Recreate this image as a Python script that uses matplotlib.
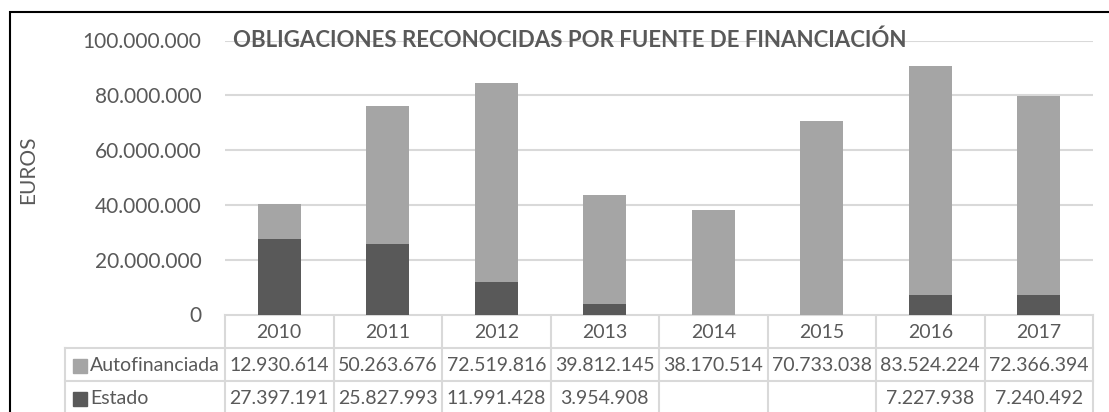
import numpy as np
import matplotlib
matplotlib.use("Agg")
import matplotlib.pyplot as plt
import matplotlib.patches as patches

years = ["2010", "2011", "2012", "2013", "2014", "2015", "2016", "2017"]
autofinanciada = [12930614, 50263676, 72519816, 39812145, 38170514, 70733038, 83524224, 72366394]
estado = [27397191, 25827993, 11991428, 3954908, None, None, 7227938, 7240492]
series_names = ["Autofinanciada", "Estado"]
yticks = [0, 20000000, 40000000, 60000000, 80000000, 100000000]

TEXT = "#595959"
GRID = "#d9d9d9"
C_AUTO = "#a5a5a5"
C_EST = "#595959"
W, H = 1109, 412
FS = 15      # axis text
FS_TAB = 14  # data table text

plt.rcParams["font.family"] = ["Lato", "DejaVu Sans"]


def fmt(v):
    if v is None:
        return ""
    return f"{v:,.0f}".replace(",", ".")


fig = plt.figure(figsize=(W / 100, H / 100), dpi=100)

# plot area in pixel units
left, right, top, base = 225, 1093, 40.5, 314.5
ax = fig.add_axes([left / W, 1 - base / H, (right - left) / W, (base - top) / H])

x = np.arange(len(years))
est_vals = np.array([v if v is not None else 0 for v in estado], dtype=float)
ax.bar(x, est_vals, width=0.4, color=C_EST, zorder=3)
ax.bar(x, autofinanciada, width=0.4, bottom=est_vals, color=C_AUTO, zorder=3)

ax.set_xlim(-0.5, len(years) - 0.5)
ax.set_ylim(0, 100000000)
ax.set_yticks(yticks)
ax.set_yticklabels([fmt(v) for v in yticks], fontsize=FS, color=TEXT)
ax.tick_params(axis="y", length=0, pad=17)
ax.set_xticks([])
ax.yaxis.grid(True, color=GRID, linewidth=1.5, zorder=0)
for s in ax.spines.values():
    s.set_visible(False)

ax.text(0.009, 1.0, "OBLIGACIONES RECONOCIDAS POR FUENTE DE FINANCIACIÓN",
        transform=ax.transAxes, ha="left", va="center", fontsize=16,
        fontweight="bold", color=TEXT, zorder=4)

# overlay axes in pixel coordinates for frame, label and data table
ov = fig.add_axes([0, 0, 1, 1], zorder=-1)
ov.set_xlim(0, W)
ov.set_ylim(H, 0)
ov.axis("off")

ov.plot([10, 10, W + 5], [H + 5, 11.5, 11.5], color="black", linewidth=1.5,
        solid_joinstyle="miter")
ov.text(28, 170, "EUROS", rotation=90, ha="center", va="center",
        fontsize=FS, color=TEXT)

edges = np.linspace(left, right, len(years) + 1)
centers = (edges[:-1] + edges[1:]) / 2
row_y = [base, 348, 381, 414]
lab_left = 65

ov.plot([left, right], [base, base], color=GRID, linewidth=1.5)
for ry in row_y[1:3]:
    ov.plot([lab_left, right], [ry, ry], color=GRID, linewidth=1.5)
for ex in edges:
    ov.plot([ex, ex], [base, H + 5], color=GRID, linewidth=1.5)
ov.plot([lab_left, lab_left], [row_y[1], H + 5], color=GRID, linewidth=1.5)

for cx, yr in zip(centers, years):
    ov.text(cx, (row_y[0] + row_y[1]) / 2 + 1, yr, ha="center", va="center",
            fontsize=FS_TAB, color=TEXT)

for i, (name, vals, col) in enumerate(zip(series_names, [autofinanciada, estado], [C_AUTO, C_EST])):
    yc = (row_y[i + 1] + row_y[i + 2]) / 2 + 1
    ov.add_patch(patches.Rectangle((73, yc - 7), 14, 14, color=col))
    ov.text(90, yc, name, ha="left", va="center", fontsize=FS_TAB, color=TEXT)
    for cx, v in zip(centers, vals):
        ov.text(cx, yc, fmt(v), ha="center", va="center", fontsize=FS_TAB, color=TEXT)

fig.savefig("out.png", dpi=100)
